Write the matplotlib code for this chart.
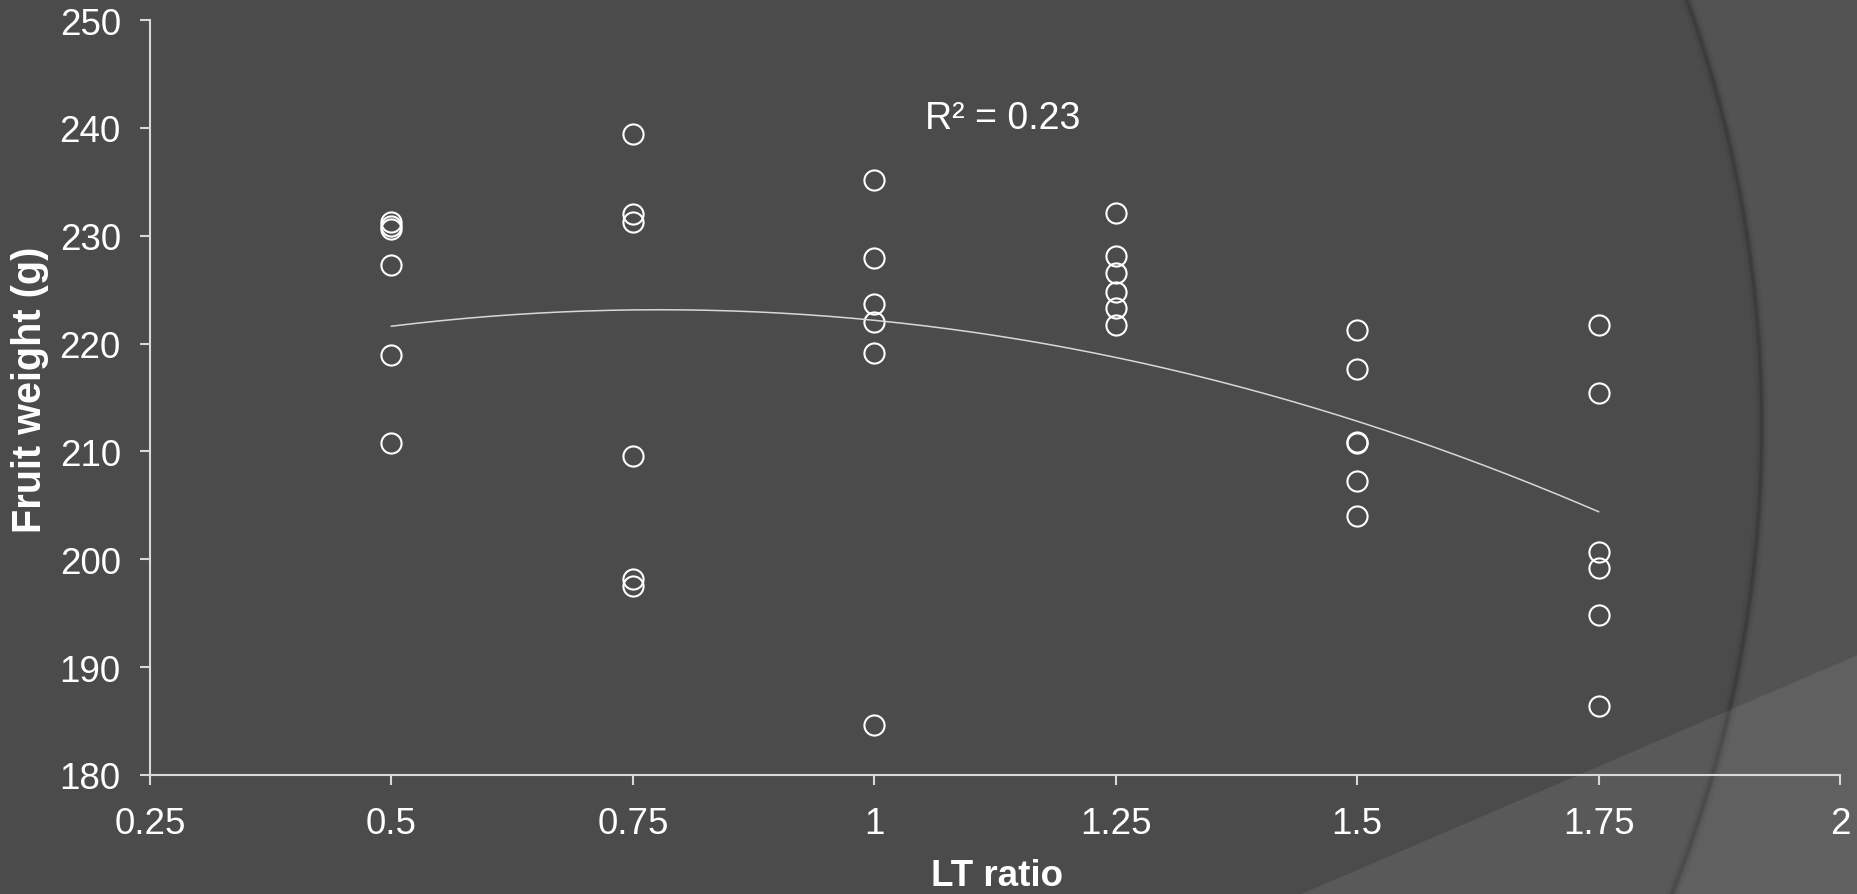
import numpy as np
import matplotlib.pyplot as plt
from matplotlib.patches import Circle, Polygon, Rectangle

# LT ratio groups and fruit weights
lt_ratio = [0.5, 0.75, 1.0, 1.25, 1.5, 1.75]
w_05 = [231.3, 230.9, 230.6, 227.3, 218.9, 210.8]
w_075 = [239.4, 232.0, 231.3, 209.6, 198.2, 197.5]
w_10 = [235.2, 227.9, 223.7, 222.0, 219.1, 184.6]
w_125 = [232.1, 228.1, 226.5, 224.8, 223.3, 221.7]
w_15 = [221.3, 217.6, 210.9, 210.8, 207.3, 204.0]
w_175 = [221.7, 215.4, 200.7, 199.2, 194.8, 186.4]
weights = [w_05, w_075, w_10, w_125, w_15, w_175]

x_ticks = [0.25, 0.5, 0.75, 1, 1.25, 1.5, 1.75, 2]
x_ticklabels = ["0.25", "0.5", "0.75", "1", "1.25", "1.5", "1.75", "2"]
y_ticks = [180, 190, 200, 210, 220, 230, 240, 250]
r2_text = "R² = 0.23"

plt.rcParams["font.family"] = ["Liberation Sans", "DejaVu Sans"]

W, H = 1858, 895
fig = plt.figure(figsize=(W / 100, H / 100), dpi=100)
fig.patch.set_facecolor("#4b4b4b")

# slide theme background: big arc on the right, lighter wedge bottom right
bg = fig.add_axes([0, 0, 1, 1], zorder=-5)
bg.set_xlim(0, W)
bg.set_ylim(H, 0)
bg.axis("off")
bg.add_patch(Rectangle((0, 0), W, H, color="#535353", zorder=0))
bg.add_patch(Circle((503, 428), 1259, facecolor="#4b4b4b", edgecolor="none", zorder=1))
for lw, a in [(9, 0.10), (5, 0.18), (2.5, 0.35)]:
    bg.add_patch(Circle((503, 428), 1259, facecolor="none", edgecolor="#2e2e2e",
                        lw=lw, alpha=a, zorder=2))
bg.add_patch(Polygon([(1292, 899), (W, 656), (W, H + 5), (1292, H + 5)],
                     facecolor="white", alpha=0.08, edgecolor="none", zorder=3))

ax = fig.add_axes([150 / W, 1 - 776 / H, 1690 / W, 755 / H])
ax.set_facecolor("none")

for x, ys in zip(lt_ratio, weights):
    ax.plot([x] * len(ys), ys, linestyle="none", marker="o", markersize=14.5,
            markerfacecolor="none", markeredgecolor="white", markeredgewidth=1.5)

# polynomial (order 2) trendline
xs_all = np.repeat(lt_ratio, [len(w) for w in weights])
ys_all = np.concatenate(weights)
coef = np.polyfit(xs_all, ys_all, 2)
xx = np.linspace(lt_ratio[0], lt_ratio[-1], 200)
ax.plot(xx, np.polyval(coef, xx), color="#d8d8d8", lw=1.1)

ax.text(1.052, 240.9, r2_text, color="white", fontsize=27, va="center", ha="left")

ax.set_xlim(0.25, 2)
ax.set_ylim(180, 250)
ax.set_xticks(x_ticks)
ax.set_xticklabels(x_ticklabels)
ax.set_yticks(y_ticks)
for s in ["top", "right"]:
    ax.spines[s].set_visible(False)
for s in ["left", "bottom"]:
    ax.spines[s].set_color("#d9d9d9")
    ax.spines[s].set_linewidth(1.5)
ax.tick_params(axis="both", colors="#d9d9d9", labelcolor="white", labelsize=26.5,
               length=7, width=1.5, direction="out")
ax.tick_params(axis="x", pad=15)
ax.tick_params(axis="y", pad=14)

fig.text(30 / W, 1 - 390 / H, "Fruit weight (g)", rotation=90, color="white",
         fontsize=28.5, fontweight="bold", ha="center", va="center",
         family=["Liberation Sans Narrow", "Liberation Sans"])
fig.text(997 / W, 1 - 877 / H, "LT ratio", color="white", fontsize=26.5,
         fontweight="bold", ha="center", va="center")

fig.savefig("out.png", dpi=100, facecolor=fig.get_facecolor())
